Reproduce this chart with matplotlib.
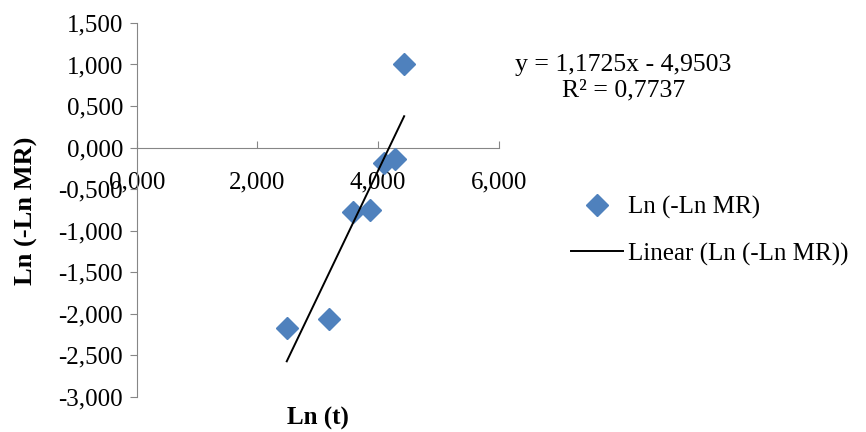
import numpy as np
import matplotlib.pyplot as plt
from matplotlib.lines import Line2D

# ln(t) and ln(-ln MR)
ln_t = [2.485, 3.178, 3.584, 3.871, 4.094, 4.277, 4.431]
ln_mr = [-2.17, -2.06, -0.77, -0.75, -0.19, -0.14, 1.00]
x_ticks = [0, 2, 4, 6]
y_ticks = [-3.0, -2.5, -2.0, -1.5, -1.0, -0.5, 0.0, 0.5, 1.0, 1.5]
eq_text = "y = 1,1725x - 4,9503\nR² = 0,7737"

plt.rcParams['font.family'] = ['Liberation Serif', 'DejaVu Serif']
plt.rcParams['font.size'] = 18

fig = plt.figure(figsize=(8.66, 4.32), dpi=100)
ax = fig.add_axes([0.158, 0.081, 0.418, 0.866])

blue = '#4F81BD'
ax.plot(ln_t, ln_mr, 'D', color=blue, markersize=11, linestyle='none', zorder=3)

k, b = np.polyfit(ln_t, ln_mr, 1)
xs = np.array([min(ln_t), max(ln_t)])
ax.plot(xs, k * xs + b, color='black', lw=1.4, zorder=4)

ax.set_xlim(0, 6)
ax.set_ylim(-3, 1.5)
ax.set_xticks(x_ticks)
ax.set_yticks(y_ticks)
fmt = lambda v: f"{v:.3f}".replace('.', ',')
ax.set_xticklabels([fmt(v) for v in x_ticks])
ax.set_yticklabels([fmt(v) for v in y_ticks])

for s in ['top', 'right']:
    ax.spines[s].set_visible(False)
ax.spines['bottom'].set_position(('data', 0))
ax.spines['bottom'].set_color('#868686')
ax.spines['left'].set_color('#868686')
ax.tick_params(axis='x', direction='in', length=5, color='#868686', pad=17)
ax.tick_params(axis='y', direction='out', length=5, color='#868686', pad=5)
ax.set_facecolor('none')

fig.text(0.030, 0.512, 'Ln (-Ln MR)', rotation=90, ha='center', va='center',
         fontweight='bold', fontsize=19)
fig.text(0.367, 0.032, 'Ln (t)', ha='center', va='center', fontweight='bold')

fig.text(0.72, 0.82, eq_text, ha='center', va='center', linespacing=1.2, fontsize=18.5)

handles = [Line2D([], [], marker='D', color=blue, linestyle='none', markersize=11),
           Line2D([], [], color='black', lw=1.4)]
fig.legend(handles, ['Ln (-Ln MR)', 'Linear (Ln (-Ln MR))'], loc='center left',
           bbox_to_anchor=(0.659, 0.466), frameon=False, handlelength=2.1,
           handletextpad=0.2, labelspacing=0.95, borderaxespad=0, borderpad=0)

fig.savefig('out.png', dpi=100, facecolor='white')
